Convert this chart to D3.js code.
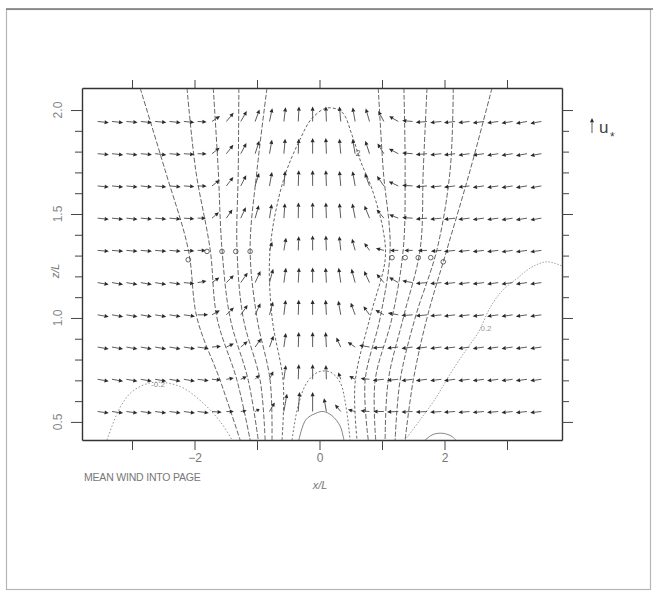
<!DOCTYPE html>
<html lang="en">
<head>
<meta charset="UTF-8">
<title>Mean wind into page</title>
<script src="https://cdn.jsdelivr.net/npm/d3@7"></script>
<style>
  body { margin: 0; background: #fff; }
  svg { display: block; font-family: "Liberation Sans", Arial, sans-serif; }
</style>
</head>
<body>
<script>
// grid of the cross-roll vectors (x/L columns, z/L rows)
const xCols = [-3.55, -3.32, -3.09, -2.86, -2.63, -2.40, -2.17, -1.95, -1.72, -1.49, -1.26, -1.03, -0.80, -0.57, -0.34, -0.11,
               0.11, 0.34, 0.57, 0.80, 1.03, 1.26, 1.49, 1.72, 1.95, 2.17, 2.40, 2.63, 2.86, 3.09, 3.32, 3.55];
const zRows = [1.945, 1.79, 1.635, 1.48, 1.325, 1.17, 1.015, 0.86, 0.705, 0.55];

// direction of each vector in degrees (0 = right, 90 = up)
const vecAngle = [
  [-6,-6,-5,-6,-5,-6,-5,-3, 35,50,60,70,78,83,87,90, 92,95,100,106,118,150,175,185, 186,187,187,188,188,189,190,190],
  [-5,-6,-6,-5,-6,-5,-4,-2, 38,52,62,72,80,85,88,90, 92,95,100,108,122,152,176,185, 186,187,188,188,189,189,190,190],
  [-6,-6,-6,-6,-5,-5,-4,-2, 38,52,63,73,80,85,88,90, 92,95,100,110,125,155,176,185, 186,187,187,188,188,189,189,190],
  [-6,-6,-6,-5,-5,-5,-4,0, 40,55,65,74,81,86,89,90, 92,95,101,112,130,158,177,185, 186,187,187,188,188,189,189,190],
  [-5,-5,-5,-5,-5,-5,-3,0, 0,0,0,0,72,80,88,90, 92,96,105,125,165,180,180,182, 185,186,186,187,187,188,188,188],
  [-10,-10,-10,-10,-10,-8,-5,10, 35,45,55,65,75,82,87,90, 93,98,105,115,130,150,170,185, 186,186,187,187,188,188,188,188],
  [-10,-10,-10,-10,-10,-9,-8,0, 30,45,55,65,75,83,88,90, 93,100,110,125,150,170,184,186, 186,187,187,187,188,188,188,188],
  [-10,-10,-10,-10,-10,-10,-9,-8, 5,25,40,55,70,82,88,90, 93,115,145,170,185,186,187,187, 187,187,188,188,188,188,188,188],
  [-10,-10,-10,-10,-10,-10,-10,-8, -5,10,25,45,65,82,88,90, 92,110,150,175,186,186,187,187, 187,187,187,188,188,188,188,188],
  [-8,-8,-8,-8,-8,-8,-8,-7, -5,0,10,30,60,80,86,90, 100,130,165,175,180,182,183,183, 184,184,185,185,185,186,186,186]
];
// magnitude of each vector in units of u*
const vecMag = [
  [.75,.75,.75,.75,.75,.75,.7,.6, .65,.75,.8,.85,.9,.95,1,1, 1,1,.95,.9,.8,.7,.7,.75, .75,.75,.75,.75,.75,.75,.75,.75],
  [.75,.75,.75,.75,.75,.75,.7,.6, .65,.75,.8,.9,.95,1,1,1.05, 1.05,1,1,.9,.8,.7,.7,.75, .75,.75,.75,.75,.75,.75,.75,.75],
  [.75,.75,.75,.75,.75,.75,.7,.6, .65,.75,.8,.9,.95,1,1.05,1.05, 1.05,1,1,.9,.8,.7,.7,.75, .75,.75,.75,.75,.75,.75,.75,.75],
  [.75,.75,.75,.75,.75,.75,.7,.55, .6,.7,.8,.9,.95,1,1.05,1.05, 1.05,1,1,.9,.75,.65,.7,.75, .75,.75,.75,.75,.75,.75,.75,.75],
  [.75,.75,.75,.75,.75,.75,.7,.55, 0,0,0,0,.6,.85,.95,1, 1,.95,.8,.6,.55,.55,.55,.6, .7,.75,.75,.75,.75,.75,.75,.75],
  [.75,.75,.75,.75,.75,.75,.7,.6, .6,.7,.8,.85,.95,1,1,1, 1,1,.95,.85,.75,.7,.7,.75, .75,.75,.75,.75,.75,.75,.75,.75],
  [.75,.75,.75,.75,.75,.75,.75,.7, .6,.7,.8,.85,.9,1,1,1, 1,.95,.85,.7,.65,.7,.75,.75, .75,.75,.75,.75,.75,.75,.75,.75],
  [.75,.75,.75,.75,.75,.75,.75,.75, .6,.55,.6,.7,.8,.95,1,1, 1,.7,.6,.7,.75,.75,.75,.75, .75,.75,.75,.75,.75,.75,.75,.75],
  [.75,.75,.75,.75,.75,.75,.75,.75, .6,.5,.45,.4,.6,.95,1,1, .95,.5,.45,.6,.75,.75,.75,.75, .75,.75,.75,.75,.75,.75,.75,.75],
  [.75,.75,.75,.75,.75,.75,.75,.75, .65,.5,.4,.35,.7,1.2,1.3,1.3, .9,.6,.5,.6,.7,.75,.75,.75, .75,.75,.75,.75,.75,.75,.75,.75]
];

// near-zero vectors shown as small circles [x/L, z/L]
const calmPoints = [[-2.10,1.28],[-1.80,1.32],[-1.56,1.32],[-1.34,1.32],[-1.11,1.32],
                    [1.16,1.29],[1.37,1.29],[1.58,1.29],[1.78,1.29],[1.98,1.27]];

// mean wind contours, each a list of [x/L, z/L]
const fanContours = [
  [[-2.87,2.106],[-2.47,1.71],[-2.10,1.33],[-1.96,1.00],[-1.59,0.70],[-1.27,0.413]],
  [[-2.12,2.106],[-1.98,1.71],[-1.75,1.33],[-1.64,1.00],[-1.32,0.70],[-1.11,0.413]],
  [[-1.70,2.106],[-1.62,1.71],[-1.56,1.33],[-1.43,1.00],[-1.14,0.70],[-0.98,0.413]],
  [[-1.29,2.106],[-1.30,1.71],[-1.32,1.33],[-1.22,1.00],[-0.95,0.70],[-0.87,0.413]],
  [[-0.84,2.106],[-1.00,1.71],[-1.11,1.33],[-1.00,1.00],[-0.79,0.70],[-0.76,0.413]],
  [[2.76,2.106],[2.41,1.71],[2.04,1.33],[1.72,1.00],[1.50,0.70],[1.37,0.413]],
  [[2.14,2.106],[2.09,1.71],[1.88,1.33],[1.53,1.00],[1.29,0.70],[1.21,0.413]],
  [[1.72,2.106],[1.66,1.71],[1.61,1.33],[1.34,1.00],[1.10,0.70],[1.05,0.413]],
  [[1.35,2.106],[1.37,1.71],[1.34,1.33],[1.16,1.00],[0.89,0.70],[0.90,0.413]],
  [[0.94,2.106],[1.02,1.71],[1.13,1.33],[0.97,1.00],[0.73,0.70],[0.78,0.413]]
];
const domeTwo = [[-0.60,0.413],[-0.58,0.69],[-0.76,1.005],[-0.79,1.33],[-0.58,1.66],[-0.31,1.86],[-0.12,1.96],
                 [0.12,2.01],[0.36,1.99],[0.52,1.88],[0.65,1.76],[0.84,1.62],[1.02,1.42],[1.05,1.28],
                 [0.81,1.005],[0.57,0.69],[0.60,0.413]];
const domeOuter = [[-0.44,0.413],[-0.34,0.58],[-0.20,0.69],[-0.02,0.74],[0.17,0.74],[0.33,0.69],[0.42,0.58],[0.49,0.413]];
const domeInner = [[-0.33,0.413],[-0.22,0.51],[-0.07,0.54],[0.06,0.55],[0.20,0.53],[0.33,0.48],[0.39,0.413]];
const bumpRight = [[1.69,0.413],[1.82,0.44],[1.98,0.445],[2.12,0.43],[2.18,0.413]];
const contourNeg = [[-3.40,0.413],[-3.19,0.57],[-2.98,0.65],[-2.66,0.69],[-2.23,0.67],[-1.86,0.59],[-1.56,0.49],[-1.40,0.413]];
const contourPos = [[1.37,0.413],[1.61,0.51],[1.85,0.61],[2.09,0.73],[2.33,0.84],[2.54,0.93],[2.73,1.05],
                    [2.92,1.13],[3.16,1.19],[3.40,1.245],[3.64,1.27],[3.88,1.25]];

const xTicks = [-3, -2, -1, 0, 1, 2, 3];
const xTickLabels = [-2, 0, 2];
const zTickLabels = [0.5, 1.0, 1.5, 2.0];

const w = 653, h = 595;
const svg = d3.select("body").append("svg").attr("width", w).attr("height", h);

const x = d3.scaleLinear().domain([-3.8, 3.88]).range([82, 562]);
const y = d3.scaleLinear().domain([0.413, 2.106]).range([440, 88]);
const len = d3.scaleLinear().domain([0, 1]).range([0, 15]); // 1 u* = 15px

// page border of the scan
svg.append("rect").attr("x", 6.5).attr("y", 9.5).attr("width", 644).attr("height", 580)
  .attr("fill", "none").attr("stroke", "#b5b5b5").attr("stroke-width", 1.2);
svg.append("line").attr("x1", 6).attr("x2", 653).attr("y1", 9).attr("y2", 9)
  .attr("stroke", "#777").attr("stroke-width", 1.6);

// contours
const line = d3.line().x(d => x(d[0])).y(d => y(d[1])).curve(d3.curveCatmullRom);
const cg = svg.append("g").attr("fill", "none");
cg.selectAll(".fan").data(fanContours).join("path")
  .attr("d", line).attr("stroke", "#555").attr("stroke-width", 0.9).attr("stroke-dasharray", "5,2");
cg.append("path").attr("d", line(domeTwo)).attr("stroke", "#555").attr("stroke-width", 0.9).attr("stroke-dasharray", "3,2");
cg.append("path").attr("d", line(domeOuter)).attr("stroke", "#666").attr("stroke-width", 0.9).attr("stroke-dasharray", "2,2");
cg.append("path").attr("d", line(domeInner)).attr("stroke", "#777").attr("stroke-width", 0.9);
cg.append("path").attr("d", line(bumpRight)).attr("stroke", "#777").attr("stroke-width", 0.9);
cg.append("path").attr("d", line(contourNeg)).attr("stroke", "#888").attr("stroke-width", 0.9).attr("stroke-dasharray", "1.5,2");
cg.append("path").attr("d", line(contourPos)).attr("stroke", "#999").attr("stroke-width", 0.9).attr("stroke-dasharray", "1.5,1.5");

// contour labels
svg.append("text").attr("x", 158).attr("y", 387).attr("font-size", 8).attr("fill", "#888")
  .attr("text-anchor", "middle").text("-0.2");
svg.append("text").attr("x", 358).attr("y", 156).attr("font-size", 9).attr("fill", "#666")
  .attr("text-anchor", "middle").text("2");
svg.append("text").attr("x", 486).attr("y", 331).attr("font-size", 8).attr("fill", "#999")
  .attr("text-anchor", "middle").text("0.2");

// vectors
const vectors = [];
zRows.forEach((z, r) => xCols.forEach((xc, c) => {
  vectors.push({x: xc, z: z, a: vecAngle[r][c], m: vecMag[r][c]});
}));

function arrow(g, x0, y0, L, deg) {
  const a = deg * Math.PI / 180;
  const ux = Math.cos(a), uy = -Math.sin(a);
  const hl = Math.min(4.2, L * 0.6), hw = 2;
  const tx = x0 + L * ux, ty = y0 + L * uy;
  const bx = tx - hl * ux, by = ty - hl * uy;
  g.append("line").attr("x1", x0).attr("y1", y0).attr("x2", bx).attr("y2", by)
    .attr("stroke", "#4a4a4a").attr("stroke-width", 0.9);
  g.append("path")
    .attr("d", `M${tx},${ty}L${bx - hw * uy},${by + hw * ux}L${bx + hw * uy},${by - hw * ux}Z`)
    .attr("fill", "#2a2a2a");
}

const vg = svg.append("g");
vectors.filter(d => d.m > 0).forEach(d => arrow(vg, x(d.x), y(d.z), len(d.m), d.a));

vg.selectAll("circle").data(calmPoints).join("circle")
  .attr("cx", d => x(d[0])).attr("cy", d => y(d[1])).attr("r", 2.3)
  .attr("fill", "none").attr("stroke", "#555").attr("stroke-width", 0.9);

// axes
const minor = d3.range(0.5, 2.06, 0.1).map(v => +v.toFixed(1));
const isMajor = v => zTickLabels.some(t => Math.abs(t - v) < 1e-6);

function styleAxis(g) {
  g.selectAll("path").attr("stroke", "#333").attr("stroke-width", 1.4);
  g.selectAll("line").attr("stroke", "#444");
  g.selectAll("text").attr("fill", "#777").attr("font-size", 12);
}

svg.append("g").attr("transform", "translate(0,440)")
  .call(d3.axisBottom(x).tickValues(xTicks).tickSize(10).tickSizeOuter(0)
    .tickFormat(d => xTickLabels.includes(d) ? (d < 0 ? "\u2212" + Math.abs(d) : d) : ""))
  .call(styleAxis);
svg.append("g").attr("transform", "translate(0,88)")
  .call(d3.axisTop(x).tickValues(xTicks).tickSize(8).tickSizeOuter(0).tickFormat(""))
  .call(styleAxis);
const la = svg.append("g").attr("transform", "translate(82,0)")
  .call(d3.axisLeft(y).tickValues(minor).tickSizeOuter(0).tickFormat(""))
  .call(styleAxis);
la.selectAll(".tick line").attr("x2", d => isMajor(d) ? -11 : -7);
const ra = svg.append("g").attr("transform", "translate(562,0)")
  .call(d3.axisRight(y).tickValues(minor).tickSizeOuter(0).tickFormat(""))
  .call(styleAxis);
ra.selectAll(".tick line").attr("x2", d => isMajor(d) ? 11 : 7);

// rotated z/L tick labels
svg.selectAll(".zlab").data(zTickLabels).join("text")
  .attr("transform", d => `translate(62,${y(d)}) rotate(-90)`)
  .attr("text-anchor", "middle").attr("font-size", 12).attr("fill", "#888")
  .text(d => d.toFixed(1));

// axis titles
svg.append("text").attr("transform", "translate(59,271) rotate(-90)")
  .attr("text-anchor", "middle").attr("font-size", 11).attr("font-style", "italic").attr("fill", "#777")
  .text("z/L");
svg.append("text").attr("x", 320).attr("y", 489)
  .attr("text-anchor", "middle").attr("font-size", 11).attr("font-style", "italic").attr("fill", "#777")
  .text("x/L");
svg.append("text").attr("x", 84).attr("y", 481)
  .attr("font-size", 10.5).attr("fill", "#777").attr("letter-spacing", -0.2)
  .text("MEAN WIND INTO PAGE");

// reference vector u*
arrow(svg, 592, 133, len(1), 90);
svg.append("text").attr("x", 599).attr("y", 133).attr("font-size", 17).attr("fill", "#444").text("u");
svg.append("text").attr("x", 610).attr("y", 141).attr("font-size", 12).attr("fill", "#444").text("*");
</script>
</body>
</html>
